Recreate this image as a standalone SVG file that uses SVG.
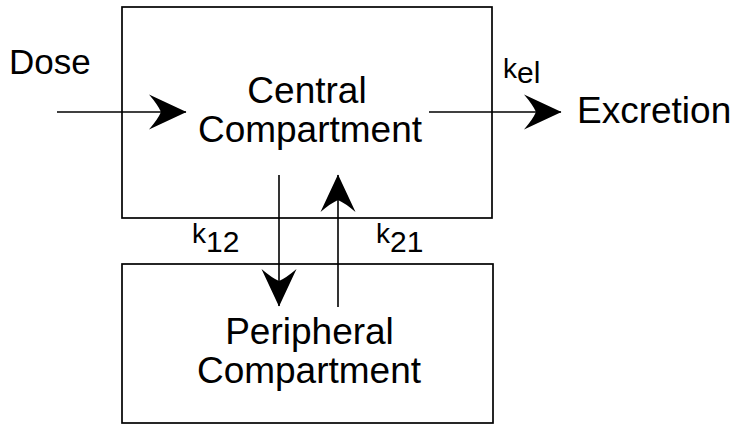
<svg xmlns="http://www.w3.org/2000/svg" width="733" height="424" viewBox="0 0 733 424">
<style>
.box{fill:none;stroke:#000;stroke-width:1.7}
.ln{fill:none;stroke:#000;stroke-width:1.6;marker-end:url(#ah)}
text{font-family:"Liberation Sans",Arial,Helvetica,sans-serif;fill:#000}
.big{font-size:37px}
.mid{text-anchor:middle}
.k{font-size:28px}
.sub{font-size:30px}
</style>
<defs>
<marker id="ah" viewBox="-38 -18 39 36" refX="0" refY="0" markerWidth="39" markerHeight="36" markerUnits="userSpaceOnUse" orient="auto">
<path d="M0.5,0 L-37,-17.5 Q-28,-7 -25,0 Q-28,7 -37,17.5 Z" fill="#000"/>
</marker>
</defs>
<rect width="733" height="424" fill="#fff"/>
<g id="central">
<rect class="box" x="122" y="7" width="370" height="211"/>
<text class="big mid" x="307" y="103">Central</text>
<text class="big mid" x="310" y="142">Compartment</text>
</g>
<g id="peripheral">
<rect class="box" x="122" y="264" width="371" height="159"/>
<text class="big mid" x="309.5" y="344">Peripheral</text>
<text class="big mid" x="309" y="383">Compartment</text>
</g>
<g id="dose">
<text style="font-size:35px" x="9" y="74">Dose</text>
</g>
<g id="excretion">
<text class="big" x="577" y="123">Excretion</text>
</g>
<g id="connectors">
<line class="ln" x1="57" y1="112" x2="186" y2="112"/>
<line class="ln" x1="429" y1="112" x2="561" y2="112"/>
<line class="ln" x1="279" y1="175" x2="279" y2="306"/>
<line class="ln" x1="338" y1="307" x2="338" y2="175"/>
<text x="503" y="78"><tspan class="k">k</tspan><tspan class="sub" dy="5">el</tspan></text>
<text x="192" y="243"><tspan class="k">k</tspan><tspan class="sub" dy="9">12</tspan></text>
<text x="376" y="243"><tspan class="k">k</tspan><tspan class="sub" dy="9">21</tspan></text>
</g>
</svg>
